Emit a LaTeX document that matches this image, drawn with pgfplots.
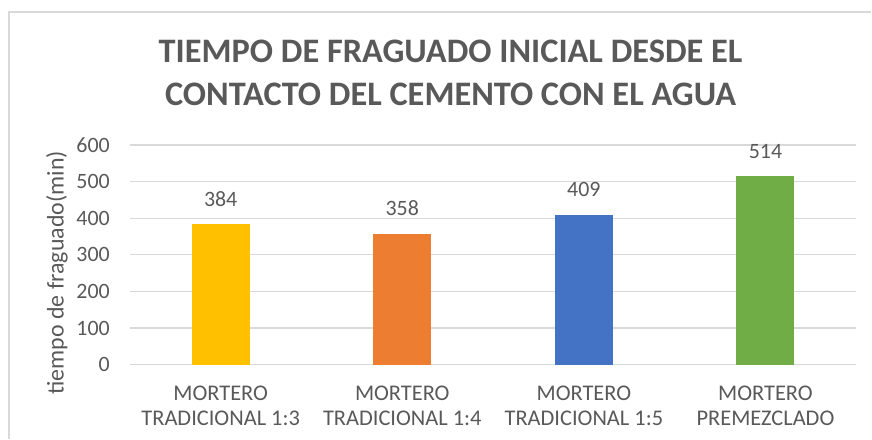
\documentclass[border=0pt]{standalone}
\usepackage{fontspec}
\setmainfont{Carlito}
\usepackage{pgfplots}
\pgfplotsset{compat=1.18}
\definecolor{txt}{HTML}{595959}
\definecolor{gridc}{HTML}{D9D9D9}
\definecolor{frame}{HTML}{D9D9D9}
\definecolor{c1}{HTML}{FFC000}
\definecolor{c2}{HTML}{ED7D31}
\definecolor{c3}{HTML}{4472C4}
\definecolor{c4}{HTML}{70AD47}
\begin{document}
\begin{tikzpicture}
\path (0,0) rectangle (872bp,439bp);
\draw[color=frame, line width=1.5bp] (9bp,0) -- (9bp,427bp) -- (872bp,427bp);
\node[font=\bfseries\fontsize{34.5}{43}\selectfont, text=txt, align=center] at (451bp,366bp)
  {TIEMPO DE FRAGUADO INICIAL DESDE EL\\CONTACTO DEL CEMENTO CON EL AGUA};
\node[rotate=90, font=\fontsize{24}{28}\selectfont, text=txt] at (57bp,166bp) {tiempo de fraguado(min)};
\begin{axis}[
  at={(130bp,74bp)}, anchor=south west,
  scale only axis, width=727bp, height=220bp,
  xmin=-0.5, xmax=3.5, ymin=0, ymax=600,
  ytick={0,100,...,600},
  xtick={0,1,2,3},
  xticklabels={{MORTERO\\TRADICIONAL 1:3},{MORTERO\\TRADICIONAL 1:4},{MORTERO\\TRADICIONAL 1:5},{MORTERO\\PREMEZCLADO}},
  axis line style={draw=none},
  major tick length=0pt,
  ymajorgrids,
  grid style={color=gridc, line width=1.3bp},
  /pgf/number format/assume math mode=true,
  y tick label style={font=\fontsize{22}{25}\selectfont, text=txt, anchor=east, inner sep=0pt, xshift=-20bp},
  x tick label style={font=\fontsize{22.5}{25}\selectfont, text=txt, align=center, anchor=base, inner sep=0pt, yshift=-61bp},
  ybar, bar width=58bp, bar shift=0pt,
  nodes near coords,
  every node near coord/.append style={font=\fontsize{22}{25}\selectfont, text=txt, anchor=base, inner sep=0pt, yshift=18bp},
  /pgf/number format/.cd, fixed, precision=0,
]
\addplot[draw=none, fill=c1] coordinates {(0,384)};
\addplot[draw=none, fill=c2] coordinates {(1,358)};
\addplot[draw=none, fill=c3] coordinates {(2,409)};
\addplot[draw=none, fill=c4] coordinates {(3,514)};
\end{axis}
\end{tikzpicture}
\end{document}
